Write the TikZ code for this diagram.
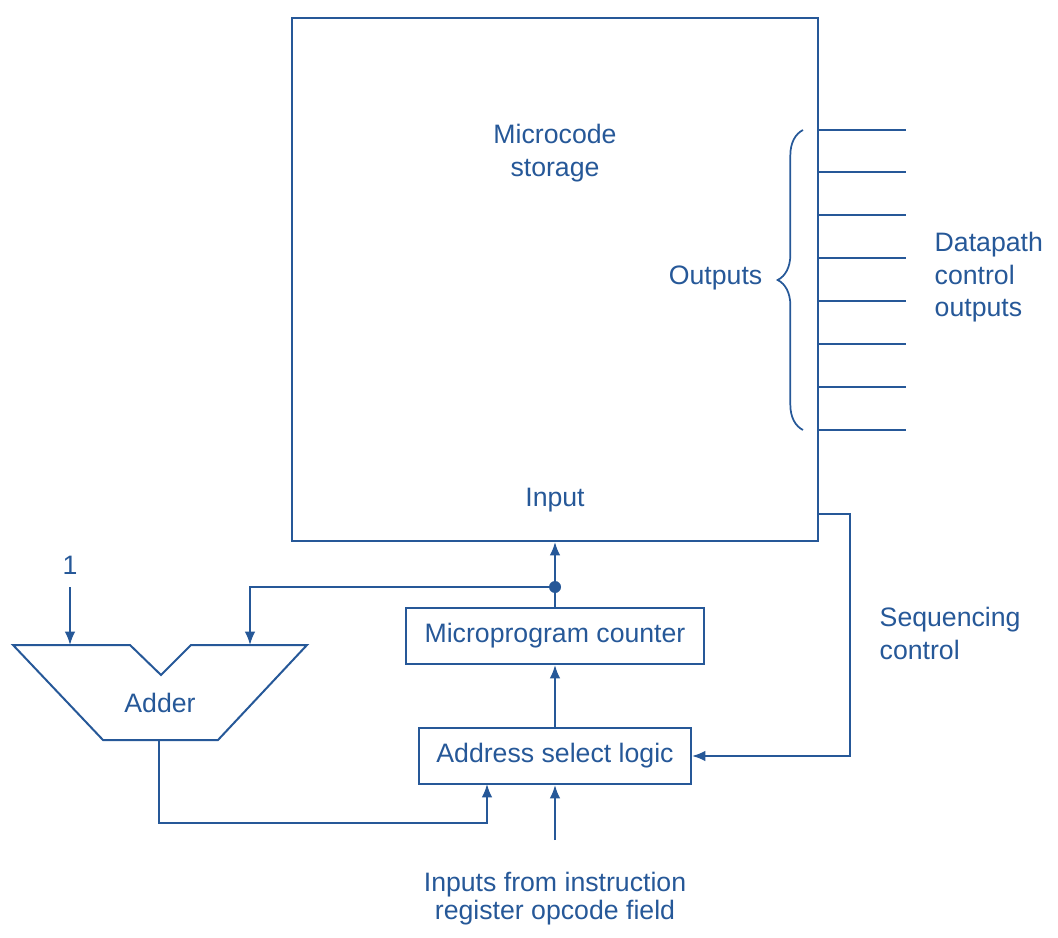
\documentclass[tikz,border=0pt]{standalone}
\usepackage{fontspec}
\setmainfont{Liberation Sans}
\usetikzlibrary{arrows.meta,decorations.pathreplacing}
\definecolor{dblue}{RGB}{38,88,152}
\begin{document}
\begin{tikzpicture}[x=0.75pt,y=-0.75pt,
  every node/.style={text=dblue,font=\fontsize{20}{24}\selectfont},
  wire/.style={draw=dblue,line width=1.5pt},
  arr/.style={wire,-{Latex[length=10pt,width=8pt]}},
  box/.style={draw=dblue,line width=1.5pt,inner sep=0pt}]
\useasboundingbox (0,0) rectangle (1058,938);
% main storage
\node[box,minimum width=394.5pt,minimum height=392.25pt] (big) at (555,279.5) {};
\node (mcs) at (555,153.5) {\begin{tabular}{c}Microcode\\[0.3pt]storage\end{tabular}};
\node (inp) at (555,500) {Input};
% output lines
\foreach \y [count=\i] in {130,172,215,258,301,344,387,430} {
  \coordinate (os\i) at (818,\y);
  \coordinate (oe\i) at (906,\y);
  \draw[wire] (os\i) -- (oe\i);
}
\coordinate (bra) at (803,430);
\coordinate (brb) at (803,130);
\draw[draw=dblue,line width=1.3pt,decorate,decoration={brace,amplitude=19pt}] (bra) -- (brb);
\node[anchor=east] (outs) at (767,278) {Outputs};
\node[anchor=west,align=left] (dco) at (930,278) {\begin{tabular}{@{}l@{}}Datapath\\[0.3pt]control\\[0.3pt]outputs\end{tabular}};
% boxes
\node[box,minimum width=223.5pt,minimum height=42pt] (mpc) at (555,636) {Microprogram counter};
\node[box,minimum width=204pt,minimum height=42pt] (asl) at (555,756) {Address select logic};
% adder
\draw[wire,line join=miter] (13,645) -- (130,645) -- (161,675) -- (191,645) -- (307,645) -- (218,740) -- (103,740) -- cycle;
\node (adder) at (160,703) {Adder};
\node (one) at (70,565) {1};
\coordinate (one0) at (70,587);
\coordinate (a1) at (70,645);
\coordinate (a2) at (250,645);
\coordinate (aout) at (159,740);
% connectors
\coordinate (dot) at (555,587);
\draw[arr] (mpc.north) -- (big.south);
\fill[dblue] (dot) circle (4.5pt);
\draw[arr] (dot) -| (a2);
\draw[arr] (one0) -- (a1);
\draw[arr] (asl.north) -- (mpc.south);
\coordinate (ain) at (487,784);
\draw[arr] (aout) |- (487,823) -- (ain);
\coordinate (opin) at (555,840);
\draw[arr] (opin) -- (asl.south);
\coordinate (sq) at (818,514);
\draw[arr] (sq) -- (850,514) |- (asl.east);
\node[anchor=west] (seq) at (875,636.5) {\begin{tabular}{@{}l@{}}Sequencing\\[0.3pt]control\end{tabular}};
\node (opl) at (555,899) {\begin{tabular}{c}Inputs from instruction\\[-3.5pt]register opcode field\end{tabular}};
\end{tikzpicture}
\end{document}
